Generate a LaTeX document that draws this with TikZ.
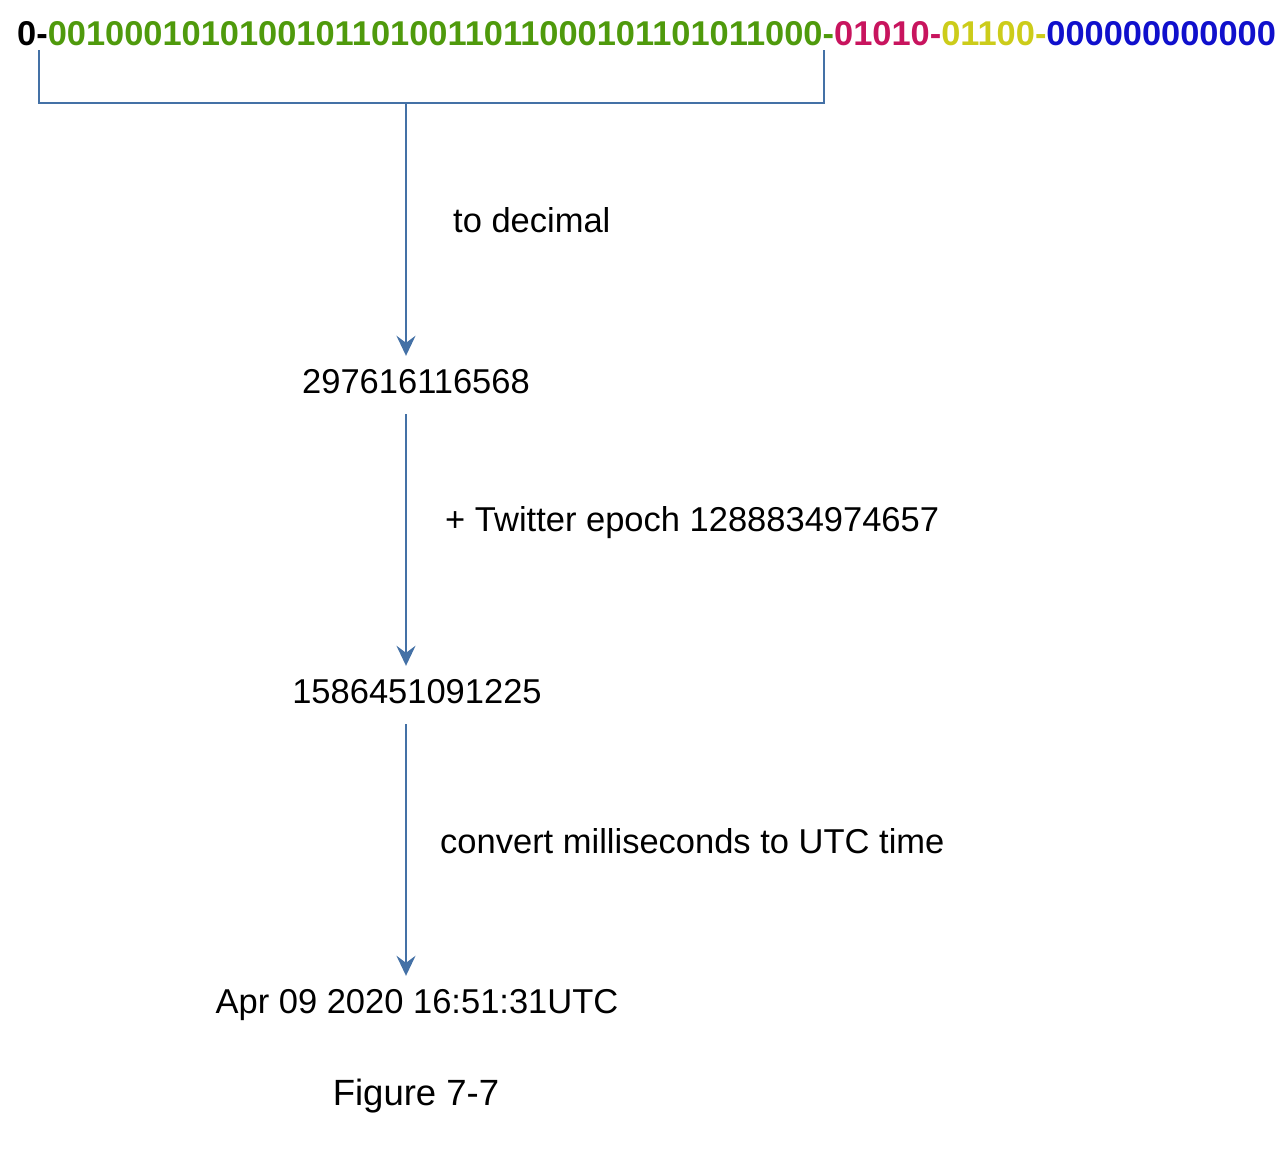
\documentclass[tikz,border=0pt]{standalone}
\usepackage{fontspec}
\setmainfont{Liberation Sans}
\usetikzlibrary{arrows.meta}
\definecolor{bitgreen}{HTML}{4F9A0C}
\definecolor{bitmag}{HTML}{C8145E}
\definecolor{bityel}{HTML}{CCCC1A}
\definecolor{bitblue}{HTML}{1010CC}
\definecolor{linkblue}{HTML}{4471A6}
\tikzset{
  lbl/.style={inner sep=0pt, anchor=base west, font=\fontsize{34.5}{40}\selectfont},
  val/.style={inner xsep=0pt, inner ysep=13pt, text height=24pt, text depth=8pt, anchor=base, font=\fontsize{34.5}{40}\selectfont},
  conn/.style={draw=linkblue, line width=2pt},
  arr/.style={conn, -{Stealth[length=20pt, width=19pt, inset=7pt]}}
}
\begin{document}
\begin{tikzpicture}[x=1pt, y=-1pt]
\useasboundingbox (0,0) rectangle (1288,1154);
\node[lbl, font=\fontsize{34.4}{40}\selectfont\bfseries] (bits) at (17,45)
  {0-\textcolor{bitgreen}{00100010101001011010011011000101101011000-}\textcolor{bitmag}{01010-}\textcolor{bityel}{01100-}\textcolor{bitblue}{000000000000}};
\coordinate (bl) at (39,50);
\coordinate (br) at (824,50);
\coordinate (bm) at (406,103);
\draw[conn] (bl) |- (bm) -| (br);
\node[val] (n1) at (416,393) {297616116568};
\node[val] (n2) at (417,703) {1586451091225};
\node[val] (n3) at (417,1013) {Apr 09 2020 16:51:31UTC};
\draw[arr] (bm) -- (n1.north -| bm);
\draw[arr] (n1.south -| bm) -- (n2.north -| bm);
\draw[arr] (n2.south -| bm) -- (n3.north -| bm);
\node[lbl] (l1) at (453,232) {to decimal};
\node[lbl] (l2) at (445,531) {+ Twitter epoch 1288834974657};
\node[lbl] (l3) at (440,853) {convert milliseconds to UTC time};
\node[lbl, anchor=base, font=\fontsize{36.5}{42}\selectfont] (fig) at (416,1105) {Figure 7-7};
\end{tikzpicture}
\end{document}
